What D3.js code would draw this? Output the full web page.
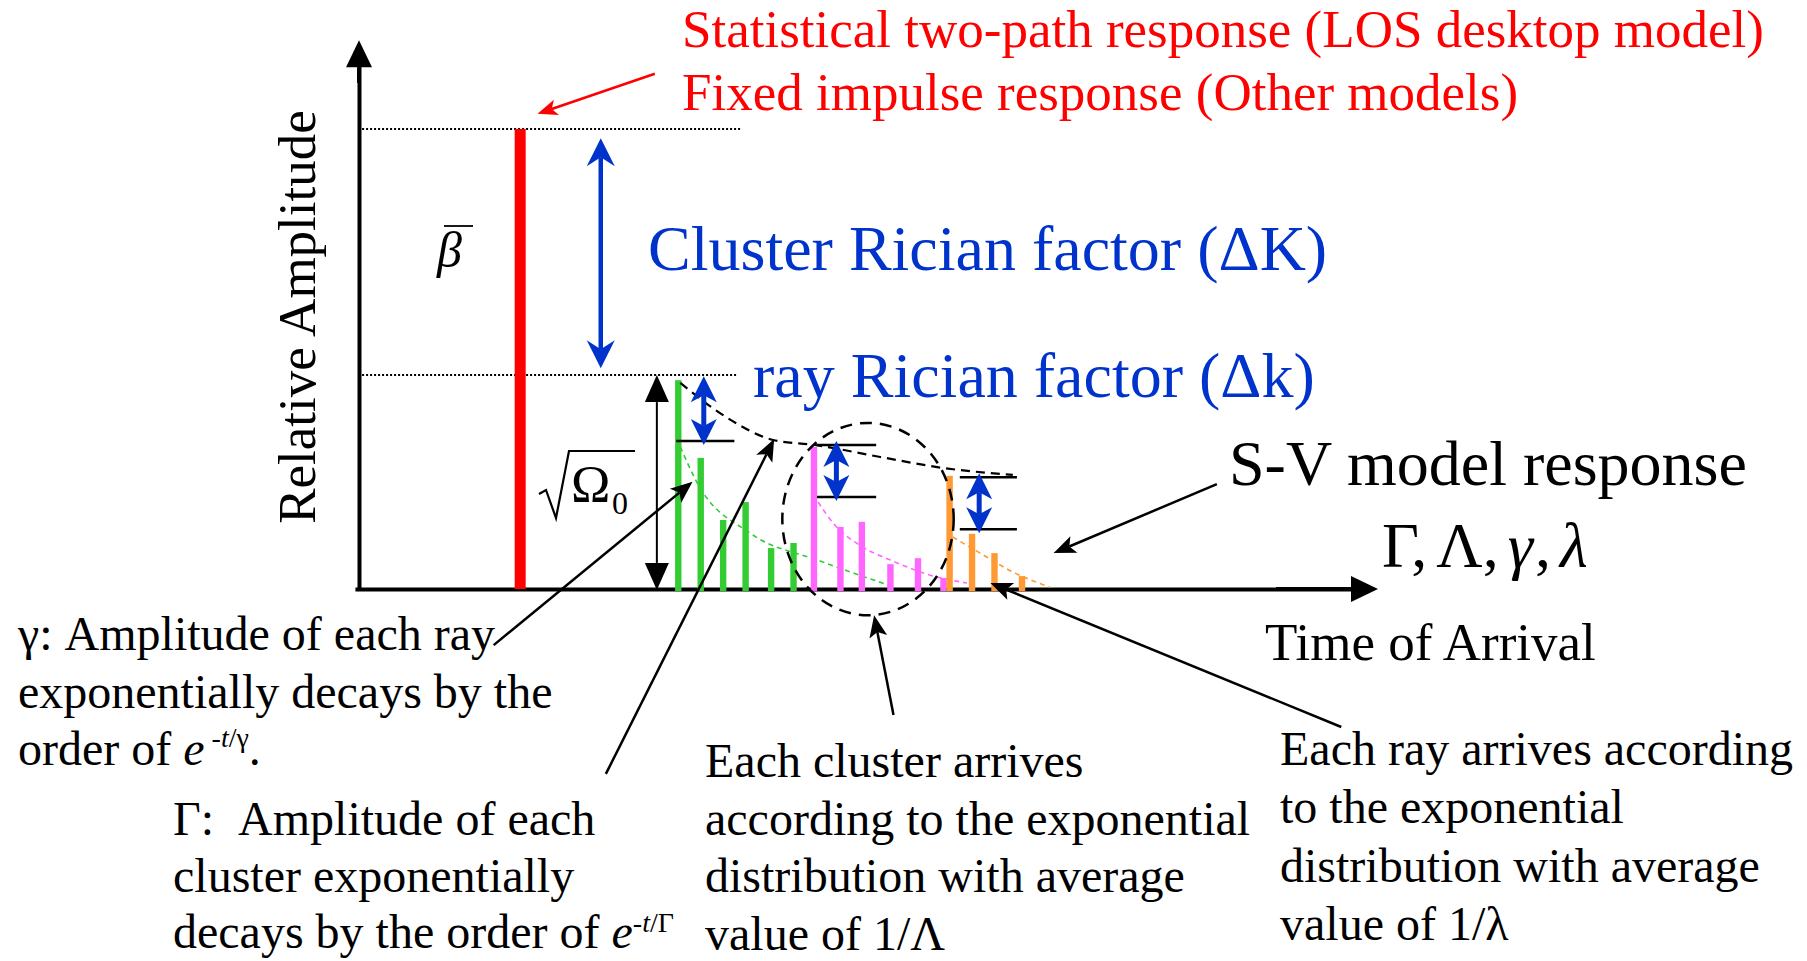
<!DOCTYPE html>
<meta charset="utf-8" />
<script src="https://d3js.org/d3.v7.min.js"></script>
<style>
	body { margin: 0; background: #fff; }
	svg text { font-family: "Liberation Serif", "Times New Roman", serif; }
</style>
<div id="chart"></div>
<script>
	// ---- data (time in arbitrary units, amplitude relative to LOS = 1) ----
	const losTime = [15.9];
	const losAmp = [1.0];
	const omegaLevel = 0.465; // sqrt(Omega0), first cluster peak

	// rays of the three S-V clusters
	const cluster1Times = [31.4, 33.6, 35.8, 38.0, 40.5, 42.7];
	const cluster1Amps = [0.454, 0.285, 0.150, 0.189, 0.089, 0.100];
	const cluster2Times = [44.7, 47.3, 49.4, 52.2, 54.9, 57.4];
	const cluster2Amps = [0.309, 0.135, 0.146, 0.054, 0.067, 0.024];
	const cluster3Times = [58.0, 60.2, 62.4, 65.1];
	const cluster3Amps = [0.246, 0.120, 0.078, 0.028];

	// cluster envelope (black dashed)
	const envelopeTimes = [31.6, 36.0, 40.7, 44.8, 51.2, 57.4, 64.2];
	const envelopeAmps = [0.448, 0.375, 0.324, 0.313, 0.287, 0.263, 0.248];

	// ray decay inside each cluster (thin coloured dashes)
	const decay1Times = [31.6, 33.2, 38.4, 45.3, 52.2];
	const decay1Amps = [0.309, 0.233, 0.122, 0.061, 0.007];
	const decay2Times = [45.1, 46.6, 49.5, 52.2, 56.1, 59.7];
	const decay2Amps = [0.189, 0.143, 0.091, 0.063, 0.030, 0.013];
	const decay3Times = [58.3, 61.0, 64.2, 67.8];
	const decay3Amps = [0.113, 0.078, 0.037, 0.004];

	// ray Rician factor markers per cluster
	const rayKHigh = [0.454, 0.313, 0.243];
	const rayKLow = [0.322, 0.200, 0.130];
	const rayKStart = [31.2, 45.0, 59.0];
	const rayKEnd = [36.9, 50.8, 64.6];
	const rayKArrowTime = [33.9, 46.9, 60.9];

	// dashed region around the second cluster: centre and radii
	const regionCentre = [50.0, 0.152];
	const regionRadius = [8.4, 0.209];

	const clusterColors = ["#33cc33", "#ff66ff", "#ff9933"];
	const blue = "#0033cc";

	const width = 1807, height = 961;
	const svg = d3.select("#chart").append("svg")
		.attr("width", width)
		.attr("height", height);

	const x = d3.scaleLinear().domain([0, 100]).range([358, 1378]);
	const y = d3.scaleLinear().domain([0, 1]).range([589, 129]);
	const P = (t, a) => [x(t), y(a)];

	// arrow helper: shaft + (stealth) head, optionally at both ends
	function drawArrow(p1, p2, o) {
		const dx = p2[0] - p1[0], dy = p2[1] - p1[1];
		const L = Math.hypot(dx, dy), ux = dx / L, uy = dy / L;
		const [len, half, notch] = o.head;
		const back = len - notch;
		const s = o.both ? [p1[0] + ux * back, p1[1] + uy * back] : p1;
		const e = [p2[0] - ux * back, p2[1] - uy * back];
		svg.append("line")
			.attr("x1", s[0]).attr("y1", s[1]).attr("x2", e[0]).attr("y2", e[1])
			.attr("stroke", o.color).attr("stroke-width", o.width);
		const head = (tip, sx, sy) => {
			const bx = tip[0] - sx * len, by = tip[1] - sy * len;
			const nx = -sy, ny = sx;
			const pts = [tip, [bx + nx * half, by + ny * half],
				[tip[0] - sx * back, tip[1] - sy * back], [bx - nx * half, by - ny * half]];
			svg.append("path").attr("d", "M" + pts.join("L") + "Z").attr("fill", o.color);
		};
		head(p2, ux, uy);
		if (o.both) head(p1, -ux, -uy);
	}

	// ---- axes (no ticks, arrow heads) ----
	const xAxisScale = x.copy().domain([-0.3, 97.4]).range([x(-0.3), x(97.4)]);
	svg.append("g")
		.attr("transform", "translate(0," + y(0) + ")")
		.call(d3.axisBottom(xAxisScale).tickValues([]).tickSizeOuter(0))
		.select(".domain").attr("stroke-width", 4);
	const yAxisScale = y.copy().domain([0, 1.137]).range([y(0), y(1.137)]);
	svg.append("g")
		.attr("transform", "translate(" + (x(0) + 1) + ",0)")
		.call(d3.axisLeft(yAxisScale).tickValues([]).tickSizeOuter(0))
		.select(".domain").attr("stroke-width", 4);
	drawArrow(P(90, 0), P(100, 0), { color: "#000", width: 4, head: [27, 13, 0] });
	drawArrow([x(0) + 1, y(1.1)], [x(0) + 1, y(1.193)], { color: "#000", width: 4, head: [27, 13, 0] });

	// ---- dotted reference levels ----
	svg.append("line")
		.attr("x1", x(0.4)).attr("x2", x(37.6)).attr("y1", y(losAmp[0])).attr("y2", y(losAmp[0]))
		.attr("stroke", "#000").attr("stroke-width", 2).attr("stroke-dasharray", "2,2");
	svg.append("line")
		.attr("x1", x(0.4)).attr("x2", x(37.2)).attr("y1", y(omegaLevel)).attr("y2", y(omegaLevel))
		.attr("stroke", "#000").attr("stroke-width", 2).attr("stroke-dasharray", "2,2");

	// ---- LOS bar ----
	svg.selectAll(".los").data(d3.zip(losTime, losAmp)).enter().append("rect")
		.attr("x", d => x(d[0]) - 5.5).attr("width", 11)
		.attr("y", d => y(d[1])).attr("height", d => y(0) - y(d[1]))
		.attr("fill", "#ff0000");

	// ---- ray decay curves ----
	const line = d3.line().x(d => x(d[0])).y(d => y(d[1])).curve(d3.curveMonotoneX);
	[[decay1Times, decay1Amps], [decay2Times, decay2Amps], [decay3Times, decay3Amps]].forEach((c, i) => {
		svg.append("path").attr("d", line(d3.zip(c[0], c[1])))
			.attr("fill", "none").attr("stroke", clusterColors[i])
			.attr("stroke-width", 1.6).attr("stroke-dasharray", "5,4");
	});

	// ---- cluster rays ----
	const clusters = [[cluster1Times, cluster1Amps], [cluster2Times, cluster2Amps], [cluster3Times, cluster3Amps]];
	clusters.forEach((c, i) => {
		svg.selectAll(".ray" + i).data(d3.zip(c[0], c[1])).enter().append("rect")
			.attr("x", d => x(d[0]) - 3.2).attr("width", 6.4)
			.attr("y", d => y(d[1])).attr("height", d => y(0) - y(d[1]) + 2)
			.attr("fill", clusterColors[i]);
	});

	// ---- cluster envelope and arrival region ----
	svg.append("path").attr("d", line(d3.zip(envelopeTimes, envelopeAmps)))
		.attr("fill", "none").attr("stroke", "#000")
		.attr("stroke-width", 2.2).attr("stroke-dasharray", "9,6");
	svg.append("ellipse")
		.attr("cx", x(regionCentre[0])).attr("cy", y(regionCentre[1]))
		.attr("rx", x(regionCentre[0] + regionRadius[0]) - x(regionCentre[0]))
		.attr("ry", y(0) - y(regionRadius[1]))
		.attr("fill", "none").attr("stroke", "#000")
		.attr("stroke-width", 2.5).attr("stroke-dasharray", "12,8");

	// ---- ray Rician factor markers ----
	rayKHigh.forEach((hi, i) => {
		const lo = rayKLow[i];
		// first cluster uses its peak as the upper level, no line drawn
		if (i > 0) {
			svg.append("line").attr("x1", x(rayKStart[i])).attr("x2", x(rayKEnd[i]))
				.attr("y1", y(hi)).attr("y2", y(hi)).attr("stroke", "#000").attr("stroke-width", 2.5);
		}
		svg.append("line").attr("x1", x(rayKStart[i])).attr("x2", x(rayKEnd[i]))
			.attr("y1", y(lo)).attr("y2", y(lo)).attr("stroke", "#000").attr("stroke-width", 2.5);
		drawArrow([x(rayKArrowTime[i]), y(hi) - 4], [x(rayKArrowTime[i]), y(lo) + 4],
			{ color: blue, width: 5, head: [26, 13, 7], both: true });
	});

	// ---- cluster Rician factor and Omega0 arrows ----
	drawArrow(P(23.8, 0.980), P(23.8, 0.480), { color: blue, width: 4.5, head: [28, 14, 9], both: true });
	drawArrow(P(29.3, omegaLevel), P(29.3, -0.002), { color: "#000", width: 2, head: [27, 12, 0], both: true });

	// ---- annotation arrows ----
	const thin = { color: "#000", width: 2.5, head: [22, 9, 5] };
	drawArrow(P(29.1, 1.120), P(17.6, 1.033), { color: "#ff0000", width: 2.5, head: [20, 8, 5] });
	drawArrow(P(84.2, 0.228), P(68.2, 0.078), thin);
	drawArrow(P(13.3, -0.122), P(32.8, 0.233), thin);
	drawArrow(P(24.3, -0.402), P(40.8, 0.326), thin);
	drawArrow(P(52.5, -0.274), P(50.6, -0.057), thin);
	drawArrow(P(96.4, -0.300), P(62.0, 0.013), thin);

	// ---- text ----
	function txt(xp, yp, size, color, parts) {
		const t = svg.append("text").attr("x", xp).attr("y", yp)
			.attr("font-size", size).attr("fill", color);
		parts.forEach(p => {
			if (typeof p === "string") { t.append("tspan").text(p); return; }
			const s = t.append("tspan").text(p.t);
			if (p.i) s.attr("font-style", "italic");
			if (p.fs) s.attr("font-size", p.fs);
			if (p.dy) s.attr("dy", p.dy);
			if (p.dx) s.attr("dx", p.dx);
		});
		return t;
	}
	function block(xp, yp, lh, size, lines) {
		lines.forEach((l, i) => txt(xp, yp + i * lh, size, "#000", Array.isArray(l) ? l : [l]));
	}

	txt(682, 47, 53, "#ff0000", ["Statistical two-path response (LOS desktop model)"]);
	txt(682, 110, 53, "#ff0000", ["Fixed impulse response (Other models)"]);
	txt(648, 270, 64, blue, ["Cluster Rician factor (\u0394K)"]);
	txt(753, 397, 64, blue, ["ray Rician factor (\u0394k)"]);
	txt(1229, 485, 64, "#000", ["S-V model response"]);
	txt(1382, 567, 64, "#000", ["\u0393,", { t: "\u039b,", dx: 9 },
		{ t: "\u03b3", dx: 9, i: true }, { t: ",", dx: 2 }, { t: "\u03bb", dx: 9, i: true }]);
	txt(1265, 660, 53, "#000", ["Time of Arrival"]);

	svg.append("text")
		.attr("transform", "translate(315,317) rotate(-90)")
		.attr("text-anchor", "middle").attr("font-size", 53)
		.text("Relative Amplitude");

	// beta bar
	txt(437, 267, 50, "#000", [{ t: "\u03b2", i: true }]);
	svg.append("line").attr("x1", 444).attr("x2", 473).attr("y1", 226).attr("y2", 226)
		.attr("stroke", "#000").attr("stroke-width", 1.8);

	// sqrt(Omega0)
	svg.append("path").attr("d", "M539,494L546,490L556,518L569,451L635,451")
		.attr("fill", "none").attr("stroke", "#000").attr("stroke-width", 2.2);
	txt(571, 502, 53, "#000", ["\u03a9"]);
	txt(612, 514, 32, "#000", ["0"]);

	block(18, 650, 57.5, 48, [
		"\u03b3: Amplitude of each ray",
		"exponentially decays by the",
		["order of ", { t: "e", i: true }, { t: " -", fs: 28, dy: -18 }, { t: "t", fs: 28, i: true }, { t: "/\u03b3", fs: 28 },
			{ t: ".", fs: 48, dy: 18 }]
	]);
	block(173, 835, 56.5, 48, [
		["\u0393:", { t: "Amplitude of each", dx: 24 }],
		"cluster exponentially",
		["decays by the order of ", { t: "e", i: true }, { t: "-", fs: 28, dy: -16 }, { t: "t", fs: 28, i: true },
			{ t: "/\u0393", fs: 28 }]
	]);
	block(705, 777, 57.7, 48, [
		"Each cluster arrives",
		"according to the exponential",
		"distribution with average",
		"value of 1/\u039b"
	]);
	block(1280, 765, 58.3, 48, [
		"Each ray arrives according",
		"to the exponential",
		"distribution with average",
		"value of 1/\u03bb"
	]);
</script>
